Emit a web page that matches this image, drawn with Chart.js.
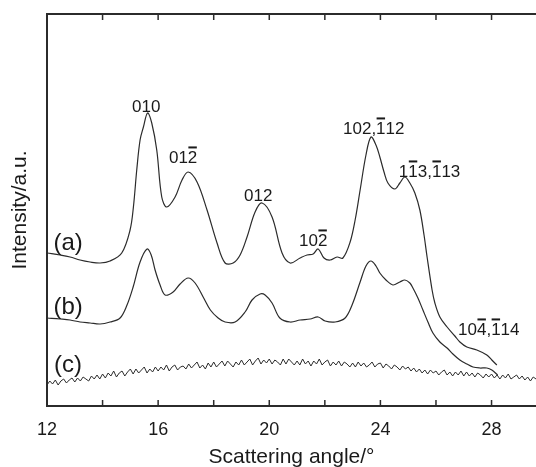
<!DOCTYPE html>
<html>
<head>
<meta charset="utf-8">
<script src="https://cdn.jsdelivr.net/npm/chart.js@4.4.0/dist/chart.umd.min.js"></script>
<style>
  html, body { margin: 0; padding: 0; background: #fff; }
</style>
</head>
<body>
<canvas id="xrd" width="536" height="467"></canvas>
<script>
// Courbe (a)
const angleA = [12.01, 12.47, 12.83, 13.19, 13.55, 13.91, 14.27, 14.69, 14.99, 15.11, 15.23, 15.35, 15.47, 15.62,
  15.77, 15.95, 16.13, 16.31, 16.61, 16.86, 17.08, 17.40, 17.76, 18.12, 18.41, 18.70, 18.95, 19.20, 19.49, 19.74,
  20.10, 20.46, 20.75, 21.11, 21.36, 21.58, 21.76, 21.97, 22.19, 22.44, 22.65, 22.91, 23.09, 23.27, 23.48, 23.66,
  23.84, 23.98, 24.13, 24.27, 24.52, 24.70, 24.88, 25.06, 25.24, 25.42, 25.57, 25.68, 25.86, 25.96, 26.14, 26.40,
  26.68, 26.86, 27.11, 27.47, 27.83, 28.01, 28.19];
const intensityA = [153, 151, 149, 146, 144, 143, 145, 153, 176, 199, 236, 266, 279, 293,
  283, 256, 209, 199, 209, 226, 234, 224, 196, 163, 143, 143, 151, 169, 194, 203,
  189, 153, 143, 148, 151, 152, 157, 148, 146, 149, 148, 164, 186, 216, 251, 269,
  261, 249, 234, 223, 217, 223, 229, 223, 213, 196, 171, 149, 116, 103, 89, 79,
  70, 64, 59, 56, 51, 46, 41];

// Courbe (b)
const angleB = [12.01, 12.47, 12.83, 13.19, 13.55, 13.91, 14.27, 14.63, 14.88, 15.10, 15.35, 15.60, 15.75, 15.89,
  16.07, 16.25, 16.54, 16.79, 17.08, 17.33, 17.62, 17.88, 18.16, 18.41, 18.77, 19.13, 19.38, 19.67, 19.85, 20.10,
  20.38, 20.75, 21.11, 21.47, 21.76, 22.01, 22.37, 22.73, 22.98, 23.27, 23.48, 23.66, 23.84, 23.98, 24.20, 24.45,
  24.70, 24.88, 25.06, 25.17, 25.35, 25.53, 25.71, 25.89, 26.14, 26.40, 26.61, 26.86, 27.11, 27.33, 27.58, 27.83,
  28.01, 28.22];
const intensityB = [88, 87, 86, 84, 83, 82, 84, 88, 101, 119, 144, 157, 151, 136,
  121, 111, 114, 122, 128, 123, 109, 96, 88, 84, 84, 94, 106, 112, 111, 103,
  88, 84, 86, 87, 89, 85, 84, 88, 101, 124, 140, 145, 140, 133, 126, 121,
  124, 126, 123, 118, 108, 96, 84, 73, 64, 58, 52, 46, 42, 39, 38, 38,
  36, 31];

// Courbe (c) : amorphe, bruitée (pas de 0,1°)
const angleC = [
  12.0, 12.1, 12.2, 12.3, 12.4, 12.5, 12.6, 12.7, 12.8, 12.9,
  13.0, 13.1, 13.2, 13.3, 13.4, 13.5, 13.6, 13.7, 13.8, 13.9,
  14.0, 14.1, 14.2, 14.3, 14.4, 14.5, 14.6, 14.7, 14.8, 14.9,
  15.0, 15.1, 15.2, 15.3, 15.4, 15.5, 15.6, 15.7, 15.8, 15.9,
  16.0, 16.1, 16.2, 16.3, 16.4, 16.5, 16.6, 16.7, 16.8, 16.9,
  17.0, 17.1, 17.2, 17.3, 17.4, 17.5, 17.6, 17.7, 17.8, 17.9,
  18.0, 18.1, 18.2, 18.3, 18.4, 18.5, 18.6, 18.7, 18.8, 18.9,
  19.0, 19.1, 19.2, 19.3, 19.4, 19.5, 19.6, 19.7, 19.8, 19.9,
  20.0, 20.1, 20.2, 20.3, 20.4, 20.5, 20.6, 20.7, 20.8, 20.9,
  21.0, 21.1, 21.2, 21.3, 21.4, 21.5, 21.6, 21.7, 21.8, 21.9,
  22.0, 22.1, 22.2, 22.3, 22.4, 22.5, 22.6, 22.7, 22.8, 22.9,
  23.0, 23.1, 23.2, 23.3, 23.4, 23.5, 23.6, 23.7, 23.8, 23.9,
  24.0, 24.1, 24.2, 24.3, 24.4, 24.5, 24.6, 24.7, 24.8, 24.9,
  25.0, 25.1, 25.2, 25.3, 25.4, 25.5, 25.6, 25.7, 25.8, 25.9,
  26.0, 26.1, 26.2, 26.3, 26.4, 26.5, 26.6, 26.7, 26.8, 26.9,
  27.0, 27.1, 27.2, 27.3, 27.4, 27.5, 27.6, 27.7, 27.8, 27.9,
  28.0, 28.1, 28.2, 28.3, 28.4, 28.5, 28.6, 28.7, 28.8, 28.9,
  29.0, 29.1, 29.2, 29.3, 29.4, 29.5, 29.6];
const intensityC = [
  21, 25, 22, 26, 21, 25, 27, 23, 26, 28,
  24, 28, 25, 29, 27, 25, 30, 27, 31, 27,
  32, 28, 33, 30, 35, 29, 33, 35, 30, 34,
  37, 32, 37, 33, 36, 39, 33, 37, 34, 39,
  35, 39, 36, 41, 35, 39, 41, 36, 39, 40,
  37, 42, 38, 41, 44, 38, 41, 37, 43, 39,
  44, 39, 42, 45, 40, 45, 42, 39, 44, 41,
  46, 41, 44, 47, 41, 45, 48, 42, 46, 43,
  47, 42, 46, 44, 41, 47, 42, 47, 44, 41,
  45, 41, 47, 42, 45, 40, 45, 42, 47, 41,
  44, 46, 40, 44, 41, 45, 40, 44, 42, 39,
  43, 39, 44, 40, 43, 39, 41, 44, 39, 42,
  43, 38, 42, 40, 37, 41, 39, 36, 40, 37,
  39, 35, 38, 34, 37, 33, 36, 32, 36, 33,
  35, 31, 34, 36, 31, 34, 30, 34, 31, 35,
  30, 34, 30, 33, 29, 33, 31, 28, 32, 29,
  32, 28, 31, 27, 31, 28, 32, 27, 29, 31,
  27, 30, 26, 29, 25, 29, 27];

// Graduations de l'axe des angles
const angleTicks = [12, 14, 16, 18, 20, 22, 24, 26, 28];

// Indices de Miller ("~" = barre sur le caractère suivant)
const peakText = ['010', '01~2', '012', '10~2', '102,~112', '1~13,~113', '10~4,~114'];
const peakAngle = [15.57, 16.90, 19.60, 21.58, 23.76, 25.77, 27.90];
const peakIntensity = [299, 248, 210, 165, 277, 234, 76];

const curveNames = ['(a)', '(b)', '(c)'];
const curveNameAngle = [12.76, 12.76, 12.76];
const curveNameIntensity = [163, 99, 41];

const ink = '#2b2b2b';
const textColor = '#1a1a1a';
const fontFamily = '"Liberation Sans", Arial, Helvetica, sans-serif';

function points(angles, values) {
    return angles.map((a, i) => ({ x: a, y: values[i] }));
}

function drawIndexed(ctx, txt, cx, cy, size) {
    ctx.font = size + 'px ' + fontFamily;
    const chars = [];
    let bar = false;
    for (const ch of txt) {
        if (ch === '~') { bar = true; continue; }
        chars.push({ ch: ch, bar: bar });
        bar = false;
    }
    const total = chars.reduce((s, c) => s + ctx.measureText(c.ch).width, 0);
    let x = cx - total / 2;
    chars.forEach(c => {
        const w = ctx.measureText(c.ch).width;
        ctx.fillText(c.ch, x, cy);
        if (c.bar) ctx.fillRect(x + 0.5, cy - size * 0.68, w - 1, 2);
        x += w;
    });
}

// Cadre du haut et graduations internes
const framePlugin = {
    id: 'frame',
    afterDraw(chart) {
        const { ctx, chartArea } = chart;
        const xs = chart.scales.x;
        ctx.save();
        ctx.strokeStyle = ink;
        ctx.lineWidth = 2;
        ctx.beginPath();
        ctx.moveTo(chartArea.left - 1, chartArea.top);
        ctx.lineTo(chartArea.right, chartArea.top);
        ctx.stroke();
        ctx.lineWidth = 1.5;
        xs.ticks.forEach(t => {
            const px = xs.getPixelForValue(t.value);
            ctx.beginPath();
            ctx.moveTo(px, chartArea.bottom);
            ctx.lineTo(px, chartArea.bottom - 6);
            ctx.moveTo(px, chartArea.top);
            ctx.lineTo(px, chartArea.top + 6);
            ctx.stroke();
        });
        ctx.restore();
    }
};

// Étiquettes des pics et des courbes
const labelPlugin = {
    id: 'labels',
    afterDatasetsDraw(chart) {
        const { ctx } = chart;
        const xs = chart.scales.x, ys = chart.scales.y;
        ctx.save();
        ctx.fillStyle = textColor;
        ctx.textBaseline = 'middle';
        ctx.textAlign = 'left';
        peakText.forEach((txt, i) => {
            drawIndexed(ctx, txt, xs.getPixelForValue(peakAngle[i]), ys.getPixelForValue(peakIntensity[i]), 17);
        });
        curveNames.forEach((txt, i) => {
            drawIndexed(ctx, txt, xs.getPixelForValue(curveNameAngle[i]), ys.getPixelForValue(curveNameIntensity[i]), 24);
        });
        ctx.restore();
    }
};

const lineStyle = {
    borderColor: ink,
    borderWidth: 1.2,
    pointRadius: 0,
    fill: false
};

new Chart(document.getElementById('xrd').getContext('2d'), {
    type: 'line',
    data: {
        datasets: [
            Object.assign({ label: '(a)', data: points(angleA, intensityA), tension: 0.35 }, lineStyle),
            Object.assign({ label: '(b)', data: points(angleB, intensityB), tension: 0.35 }, lineStyle),
            Object.assign({ label: '(c)', data: points(angleC, intensityC), tension: 0 }, lineStyle, { borderWidth: 1 })
        ]
    },
    options: {
        responsive: false,
        animation: false,
        layout: { padding: { top: 14, right: 0, bottom: 0, left: 0 } },
        plugins: {
            legend: { display: false },
            tooltip: { enabled: false }
        },
        scales: {
            x: {
                type: 'linear',
                min: 12,
                max: 29.6,
                afterBuildTicks: function(scale) {
                    scale.ticks = angleTicks.map(v => ({ value: v }));
                },
                afterFit: function(scale) {
                    scale.height = 61;
                    scale.paddingLeft = 0;
                    scale.paddingRight = 0;
                },
                grid: { display: false, drawTicks: false },
                border: { display: true, color: ink, width: 2 },
                ticks: {
                    autoSkip: false,
                    maxRotation: 0,
                    padding: 13,
                    color: textColor,
                    font: { family: fontFamily, size: 18 },
                    callback: function(value) {
                        return value % 4 === 0 ? value : '';
                    }
                },
                title: {
                    display: true,
                    text: 'Scattering angle/°',
                    color: textColor,
                    font: { family: fontFamily, size: 21, lineHeight: 1 },
                    padding: { top: 0, bottom: -1 }
                }
            },
            y: {
                min: 0,
                max: 392,
                afterFit: function(scale) {
                    scale.width = 47;
                    scale.paddingTop = 0;
                    scale.paddingBottom = 0;
                },
                grid: { display: false, drawTicks: false },
                border: { display: true, color: ink, width: 2 },
                ticks: { display: false },
                title: {
                    display: true,
                    text: 'Intensity/a.u.',
                    color: textColor,
                    font: { family: fontFamily, size: 21, lineHeight: 1 },
                    padding: { top: 9.5, bottom: 0 }
                }
            }
        }
    },
    plugins: [framePlugin, labelPlugin]
});
</script>
</body>
</html>
